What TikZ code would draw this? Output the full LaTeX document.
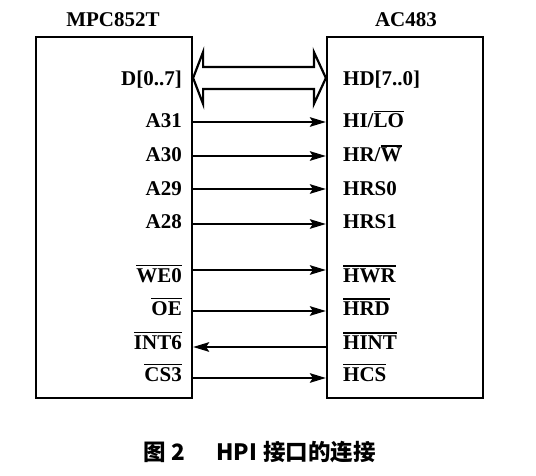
\documentclass[tikz,border=0pt]{standalone}
\usepackage{fontspec}
\setmainfont{Liberation Serif}
\newfontfamily\cjk{Noto Sans CJK SC}
\usetikzlibrary{arrows.meta,calc}
\newcommand\ovl[1]{\leavevmode\vbox{\hrule height 1.6pt\kern 1.6pt\hbox{#1}}}
\begin{document}
\begin{tikzpicture}[x=1pt,y=-1pt,
  chip/.style={draw,line width=2.2pt,inner sep=0pt,minimum width=156pt,minimum height=361pt},
  lbl/.style={font=\fontsize{21}{24}\selectfont\bfseries,inner sep=0pt},
  sig/.style={line width=2.2pt,-{Stealth[length=16pt,width=9.5pt,inset=3pt]}},
  bus/.style={line width=2.2pt,line join=miter}]
\useasboundingbox (0,0) rectangle (536,476);
\node[chip] (L) at (114,217.5) {};
\node[chip] (R) at (405,217.5) {};
\node[lbl,anchor=base] (tL) at (113,27) {MPC852T};
\node[lbl,anchor=base] (tR) at (406,27) {AC483};
% labels
\foreach \n/\y/\yb/\lt/\rt in {d/78/86/{D[0..7]}/{HD[7..0]},
  a31/122/128/A31/{HI/\ovl{LO}},
  a30/156/162/A30/{HR/\ovl{W}},
  a29/189/196/A29/HRS0,
  a28/224/229/A28/HRS1,
  we/270/282/\ovl{WE0}/\ovl{HWR},
  oe/311/315/\ovl{OE}/\ovl{HRD},
  int/347/349/\ovl{INT6}/\ovl{HINT},
  cs/378/381/\ovl{CS3}/\ovl{HCS}}{
  \node[lbl,anchor=base east] (l\n) at (182,\yb) {\lt};
  \node[lbl,anchor=base west] (r\n) at (343,\yb) {\rt};
  \coordinate (p\n) at (0,\y);
}
% bus arrow
\draw[bus] (L.east |- pd)
  -- ++(10,-26) -- ++(0,15) -- ($(R.west |- pd)+(-12,-11)$)
  -- ++(0,-15) -- (R.west |- pd) -- ++(-12,26) -- ++(0,-15)
  -- ($(L.east |- pd)+(10,11)$) -- ++(0,15) -- cycle;
\foreach \n in {a31,a30,a29,a28,we,oe,cs}
  \draw[sig] (L.east |- p\n) -- (R.west |- p\n);
\draw[sig] (R.west |- pint) -- (L.east |- pint);
\node[anchor=base west,inner sep=0pt,font=\cjk\bfseries\fontsize{22.5}{24}\selectfont] (cap) at (143,460)
  {图\hspace{6pt}2\hspace{31pt}HPI\hspace{6pt}接口的连接};
\end{tikzpicture}
\end{document}
